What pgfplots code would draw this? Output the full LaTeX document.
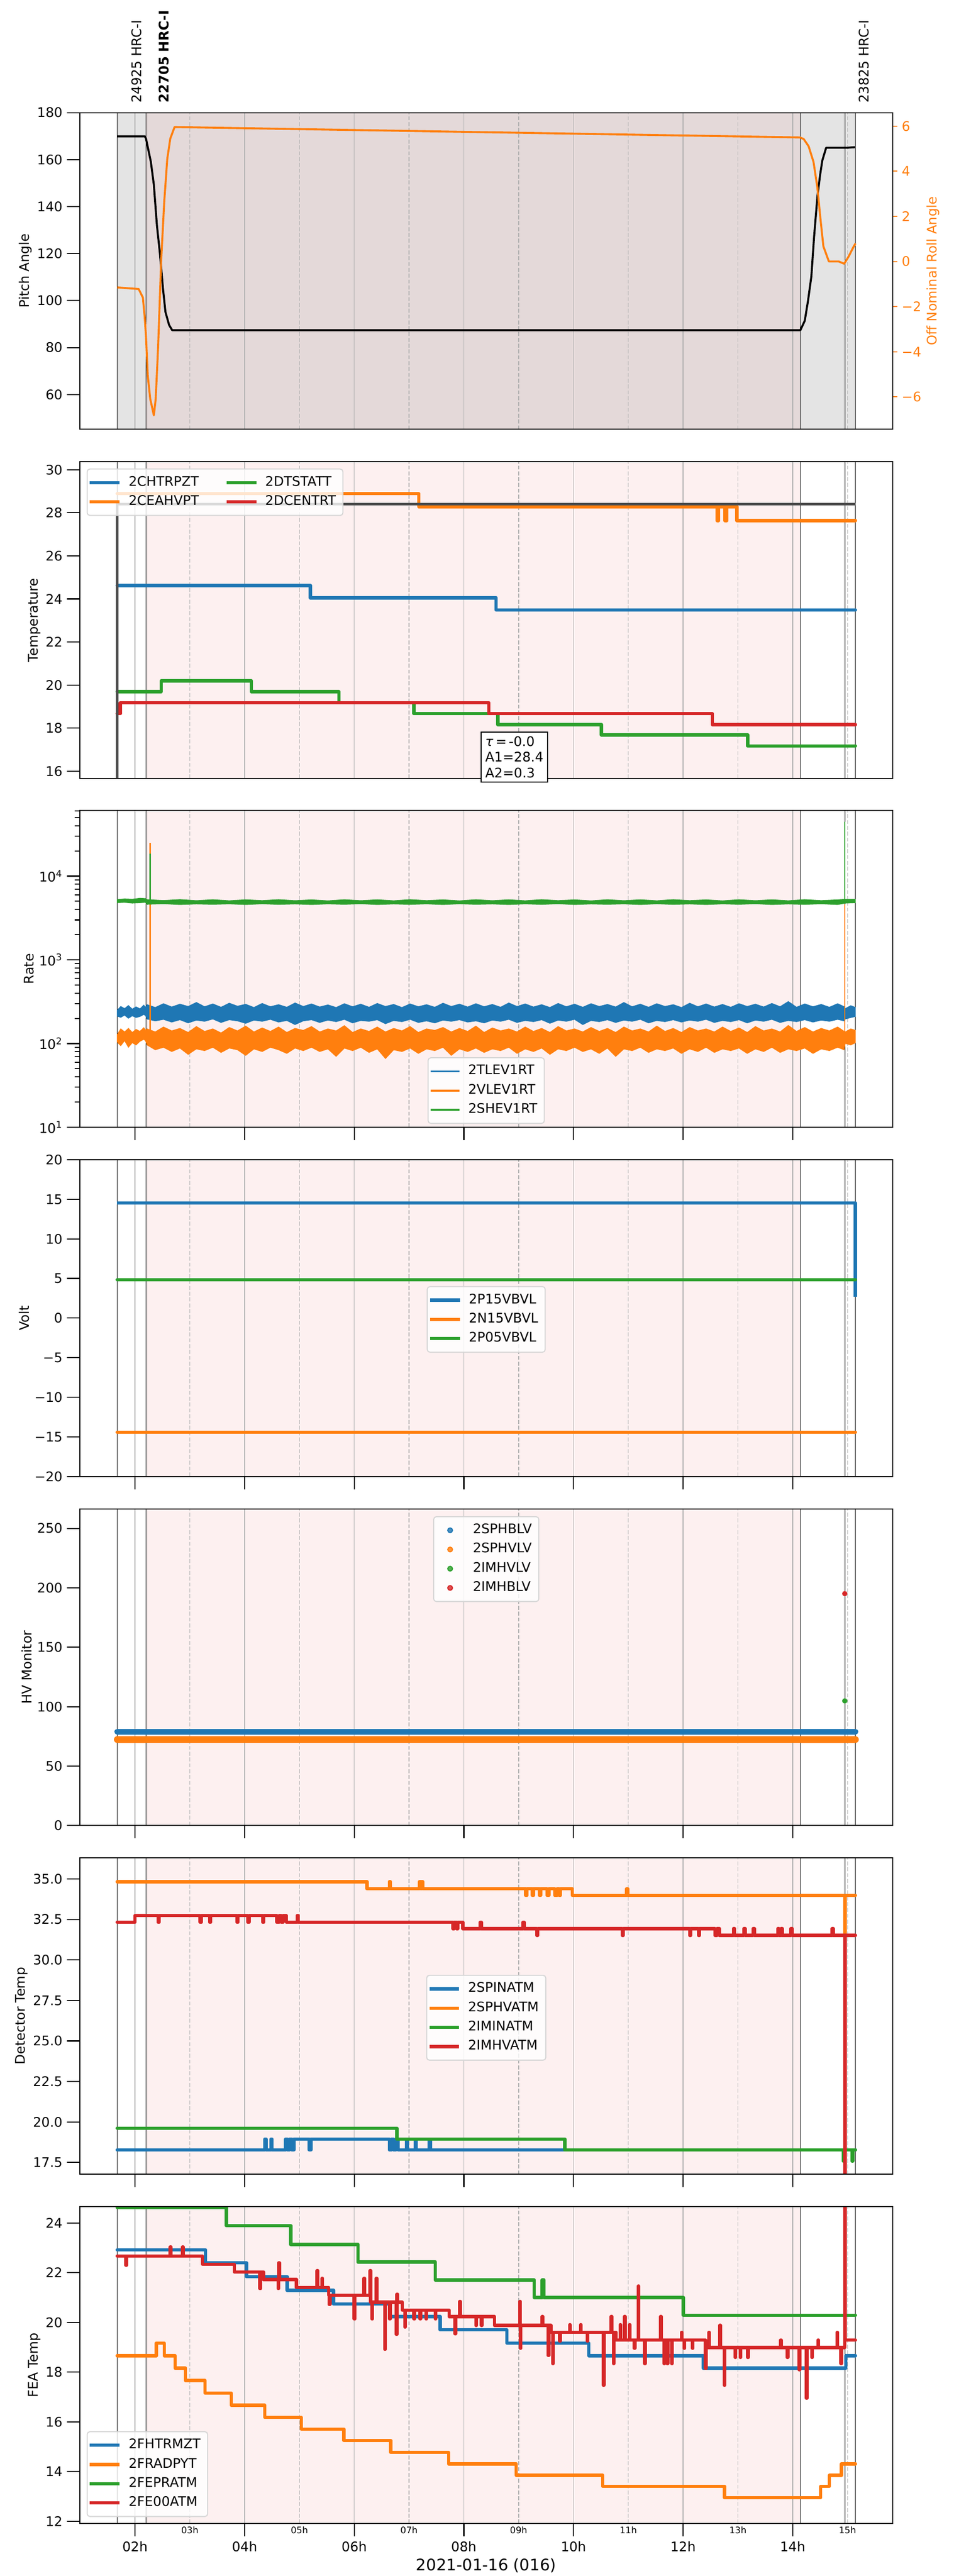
\documentclass[border=0pt]{standalone}
\usepackage{fontspec}
\setmainfont{DejaVu Sans}
\usepackage{pgfplots}
\usepackage{pgfplotstable}
\pgfplotsset{compat=1.18}

\definecolor{c0}{HTML}{1F77B4}
\definecolor{c1}{HTML}{FF7F0E}
\definecolor{c2}{HTML}{2CA02C}
\definecolor{c3}{HTML}{D62728}
\definecolor{gridc}{HTML}{B0B0B0}
\definecolor{pinkbg}{HTML}{FDF0F0}
\definecolor{greybg}{HTML}{E4E4E4}
\definecolor{rosebg}{HTML}{E4D9D9}
\definecolor{fitc}{HTML}{4D4D4D}
\definecolor{legc}{HTML}{D6D6D6}

\newcommand{\vl}[2]{\draw[#1] (axis cs:#2,\ylo) -- (axis cs:#2,\yhi);}
\newcommand{\gridlines}{%
  \vl{gridc,line width=0.5pt}{2}\vl{gridc,line width=0.5pt}{4}\vl{gridc,line width=0.5pt}{6}%
  \vl{gridc,line width=0.5pt}{8}\vl{gridc,line width=0.5pt}{10}\vl{gridc,line width=0.5pt}{12}%
  \vl{gridc,line width=0.5pt}{14}%
  \vl{gridc,line width=0.5pt,dash pattern=on 3pt off 1.4pt}{3}\vl{gridc,line width=0.5pt,dash pattern=on 3pt off 1.4pt}{5}%
  \vl{gridc,line width=0.5pt,dash pattern=on 3pt off 1.4pt}{7}\vl{gridc,line width=0.5pt,dash pattern=on 3pt off 1.4pt}{9}%
  \vl{gridc,line width=0.5pt,dash pattern=on 3pt off 1.4pt}{11}\vl{gridc,line width=0.5pt,dash pattern=on 3pt off 1.4pt}{13}%
  \vl{gridc,line width=0.5pt,dash pattern=on 3pt off 1.4pt}{15}%
  \vl{black,line width=0.4pt}{1.675}\vl{black,line width=0.4pt}{2.2}\vl{black,line width=0.4pt}{14.139}%
  \vl{black,line width=0.4pt}{14.951}\vl{black,line width=0.4pt}{15.145}%
}
\newcommand{\pinkfill}{\fill[pinkbg] (axis cs:2.2,\ylo) rectangle (axis cs:14.139,\yhi);}

\pgfplotsset{
  panel/.style={
    anchor=south west, at={(60.4pt,#1)},
    scale only axis, width=613.2pt, height=239pt,
    xmin=0.997, xmax=15.82,
    axis on top,
    axis line style={line width=0.8pt},
    tick style={line width=0.8pt, black},
    tick align=outside,
    major tick length=9.7pt,
    minor tick length=4pt,
    xtick pos=bottom, ytick pos=left,
    ylabel shift=-3pt,
    /pgf/number format/assume math mode=true,
    scaled y ticks=false,
    legend cell align=left,
    legend style={draw=legc, line width=0.8pt, rounded corners=2pt, fill=white,
      fill opacity=0.8, text opacity=1, font=\fontsize{10}{12}\selectfont,
      inner xsep=2pt, inner ysep=3pt, row sep=0pt,
      nodes={inner xsep=3.3pt, inner ysep=2.25pt, text height=7.5pt, text depth=2.5pt},
      /tikz/every odd column/.append style={column sep=3.5pt}},
    legend image code/.code={\draw[##1, line cap=rect] (0pt,0pt) -- (20pt,0pt);},
  },
  thk/.style={line width=2.5pt, line join=round, line cap=round},
}

% blue band: upper envelope left to right, then lower envelope right to left
\pgfplotstableread{
x y
1.675 250
1.74 278
1.81 262
1.88 285
1.95 258
2.02 275
2.09 260
2.16 288
2.19 272
2.22 292
2.37 270
2.52 300
2.67 274
2.82 296
2.97 278
3.12 310
3.27 276
3.42 298
3.57 272
3.72 304
3.87 280
4.02 295
4.17 270
4.32 302
4.47 276
4.62 292
4.77 272
4.92 306
5.07 278
5.22 298
5.37 274
5.52 290
5.67 270
5.82 300
5.97 276
6.12 296
6.27 272
6.42 302
6.57 278
6.72 294
6.87 270
7.02 298
7.17 276
7.32 292
7.47 272
7.62 304
7.77 278
7.92 296
8.07 274
8.22 300
8.37 276
8.52 294
8.67 272
8.82 306
8.97 278
9.12 298
9.27 274
9.42 292
9.57 270
9.72 302
9.87 276
10.02 296
10.17 272
10.32 300
10.47 278
10.62 294
10.77 274
10.92 310
11.07 276
11.22 296
11.37 272
11.52 300
11.67 278
11.82 292
11.97 270
12.12 304
12.27 276
12.42 298
12.57 274
12.72 294
12.87 272
13.02 300
13.17 278
13.32 296
13.47 274
13.62 302
13.77 276
13.92 318
14.07 272
14.22 298
14.37 276
14.52 294
14.67 272
14.82 300
14.94 276
14.96 262
15.06 284
15.145 270
15.145 210
15.06 204
14.96 196
14.94 186
14.82 194
14.67 184
14.52 190
14.37 180
14.22 192
14.07 182
13.92 188
13.77 178
13.62 194
13.47 184
13.32 190
13.17 176
13.02 192
12.87 182
12.72 188
12.57 178
12.42 194
12.27 184
12.12 190
11.97 180
11.82 192
11.67 182
11.52 188
11.37 176
11.22 194
11.07 184
10.92 190
10.77 178
10.62 192
10.47 182
10.32 188
10.17 168
10.02 194
9.87 184
9.72 190
9.57 174
9.42 192
9.27 182
9.12 188
8.97 178
8.82 194
8.67 184
8.52 190
8.37 176
8.22 186
8.07 180
7.92 192
7.77 184
7.62 190
7.47 176
7.32 186
7.17 178
7.02 194
6.87 182
6.72 188
6.57 172
6.42 192
6.27 184
6.12 188
5.97 176
5.82 194
5.67 182
5.52 190
5.37 178
5.22 192
5.07 186
4.92 168
4.77 188
4.62 180
4.47 194
4.32 184
4.17 190
4.02 174
3.87 186
3.72 192
3.57 178
3.42 196
3.27 184
3.12 190
2.97 176
2.82 192
2.67 180
2.52 194
2.37 186
2.22 196
2.19 216
2.16 222
2.09 210
2.02 204
1.95 214
1.88 200
1.81 218
1.74 205
1.675 212
}\bandB

\pgfplotstableread{
x y
1.675 128
1.74 150
1.81 138
1.88 152
1.95 136
2.02 148
2.09 140
2.16 155
2.19 146
2.22 150
2.37 138
2.52 158
2.67 142
2.82 152
2.97 136
3.12 160
3.27 140
3.42 150
3.57 134
3.72 156
3.87 142
4.02 162
4.17 138
4.32 154
4.47 140
4.62 158
4.77 136
4.92 152
5.07 144
5.22 160
5.37 138
5.52 150
5.67 142
5.82 164
5.97 136
6.12 150
6.27 140
6.42 158
6.57 138
6.72 152
6.87 142
7.02 160
7.17 136
7.32 150
7.47 144
7.62 156
7.77 138
7.92 152
8.07 140
8.22 162
8.37 136
8.52 154
8.67 142
8.82 150
8.97 138
9.12 158
9.27 140
9.42 152
9.57 136
9.72 160
9.87 142
10.02 150
10.17 138
10.32 156
10.47 140
10.62 152
10.77 136
10.92 158
11.07 142
11.22 150
11.37 138
11.52 162
11.67 140
11.82 152
11.97 136
12.12 156
12.27 142
12.42 150
12.57 138
12.72 158
12.87 140
13.02 154
13.17 136
13.32 160
13.47 142
13.62 150
13.77 138
13.92 165
14.07 140
14.22 156
14.37 138
14.52 152
14.67 142
14.82 158
14.94 140
14.96 138
15.06 150
15.145 144
15.145 102
15.06 96
14.96 100
14.94 84
14.82 90
14.67 82
14.52 86
14.37 76
14.22 88
14.07 82
13.92 86
13.77 78
13.62 90
13.47 80
13.32 86
13.17 76
13.02 88
12.87 82
12.72 86
12.57 78
12.42 90
12.27 80
12.12 86
11.97 76
11.82 88
11.67 82
11.52 86
11.37 78
11.22 90
11.07 82
10.92 86
10.77 70
10.62 88
10.47 76
10.32 86
10.17 80
10.02 90
9.87 82
9.72 86
9.57 74
9.42 88
9.27 80
9.12 86
8.97 76
8.82 90
8.67 82
8.52 86
8.37 78
8.22 88
8.07 80
7.92 86
7.77 72
7.62 90
7.47 82
7.32 86
7.17 76
7.02 88
6.87 80
6.72 84
6.57 66
6.42 86
6.27 78
6.12 90
5.97 82
5.82 88
5.67 70
5.52 86
5.37 80
5.22 90
5.07 82
4.92 88
4.77 76
4.62 84
4.47 90
4.32 80
4.17 86
4.02 72
3.87 84
3.72 88
3.57 78
3.42 90
3.27 82
3.12 86
2.97 74
2.82 88
2.67 80
2.52 90
2.37 84
2.22 96
2.19 108
2.16 112
2.09 106
2.02 96
1.95 102
1.88 90
1.81 108
1.74 94
1.675 104
}\bandO

\pgfplotstableread{
x y
1.675 5250
1.81 5350
1.95 5300
2.09 5450
2.19 5400
2.22 5250
2.52 5120
2.82 5260
3.12 5100
3.42 5240
3.72 5090
4.02 5230
4.32 5110
4.62 5250
4.92 5100
5.22 5220
5.52 5080
5.82 5240
6.12 5100
6.42 5230
6.72 5090
7.02 5250
7.32 5110
7.62 5220
7.92 5080
8.22 5240
8.52 5100
8.82 5230
9.12 5090
9.42 5250
9.72 5110
10.02 5220
10.32 5080
10.62 5240
10.92 5100
11.22 5230
11.52 5090
11.82 5250
12.12 5110
12.42 5220
12.72 5080
13.02 5240
13.32 5100
13.62 5230
13.92 5090
14.22 5250
14.52 5110
14.82 5220
14.96 5300
15.145 5300
15.145 4800
14.96 4750
14.82 4560
14.52 4660
14.22 4580
13.92 4640
13.62 4560
13.32 4670
13.02 4590
12.72 4650
12.42 4560
12.12 4640
11.82 4580
11.52 4660
11.22 4560
10.92 4650
10.62 4590
10.32 4640
10.02 4560
9.72 4670
9.42 4580
9.12 4650
8.82 4560
8.52 4640
8.22 4590
7.92 4660
7.62 4560
7.32 4650
7.02 4580
6.72 4640
6.42 4560
6.12 4670
5.82 4590
5.52 4650
5.22 4560
4.92 4640
4.62 4580
4.32 4660
4.02 4560
3.72 4650
3.42 4590
3.12 4640
2.82 4560
2.52 4670
2.22 4600
2.19 4850
2.09 4800
1.95 4750
1.81 4850
1.675 4800
}\bandG

\begin{document}
\begin{tikzpicture}
\useasboundingbox (0,0) rectangle (720pt,1944pt);

% ================= Panel 0: Pitch =================
\def\ylo{45.2}\def\yhi{180}
\begin{axis}[panel=1620pt, ymin=45.2, ymax=180, ytick={60,80,...,180}, xtick=\empty,
  ylabel={Pitch Angle}]
  \fill[greybg] (axis cs:1.675,\ylo) rectangle (axis cs:15.145,\yhi);
  \fill[rosebg] (axis cs:2.2,\ylo) rectangle (axis cs:14.139,\yhi);
  \gridlines
  \addplot[black, line width=1.5pt, line join=round] coordinates {
    (1.675,169.9) (2.18,169.9) (2.2,169.0) (2.289,159.1) (2.344,149.3) (2.4,132.0)
    (2.456,119.7) (2.511,105.0) (2.556,95.1) (2.622,89.6) (2.678,87.4) (14.14,87.4)
    (14.22,91.4) (14.28,100) (14.34,110.2) (14.39,127.1) (14.45,144.1) (14.50,153.5)
    (14.54,159.6) (14.61,165.05) (15.0,165.05) (15.145,165.3)};
\end{axis}
\begin{axis}[panel=1620pt, axis y line*=right, axis x line=none, axis line style={black},
  ymin=-7.44, ymax=6.60, ytick={-6,-4,...,6}, yticklabels={−6,−4,−2,0,2,4,6},
  ytick pos=right, major tick length=3.5pt,
  ytick style={c1, line width=0.8pt}, yticklabel style={c1},
  ylabel={Off Nominal Roll Angle}, ylabel style={c1}]
  \addplot[c1, line width=1.5pt, line join=round] coordinates {
    (1.675,-1.15) (2.067,-1.22) (2.144,-1.60) (2.178,-2.50) (2.2,-3.3) (2.233,-5.06)
    (2.278,-6.09) (2.344,-6.82) (2.378,-6.09) (2.422,-3.78) (2.478,0.07) (2.533,2.63)
    (2.589,4.55) (2.644,5.45) (2.722,5.96) (14.13,5.50) (14.20,5.43) (14.29,5.11)
    (14.38,4.41) (14.45,3.28) (14.51,1.80) (14.56,0.67) (14.66,0.0) (14.84,0.0)
    (14.94,-0.1) (15.02,0.22) (15.11,0.65) (15.145,0.80)};
\end{axis}

% ================= Panel 1: Temperature =================
\def\ylo{15.66}\def\yhi{30.37}
\begin{axis}[panel=1356.5pt, ymin=15.66, ymax=30.37, ytick={16,18,...,30}, xtick=\empty,
  ylabel={Temperature},
  legend columns=2, transpose legend,
  legend style={at={(0.0082,0.9787)}, anchor=north west,
    /tikz/every even column/.append style={column sep=17.5pt}}]
  \pinkfill
  \gridlines
  \addplot[c0, thk] coordinates {(1.675,24.62) (5.2,24.62) (5.2,24.05) (8.589,24.05) (8.589,23.49) (15.145,23.49)};
  \addlegendentry{2CHTRPZT}
  \addplot[c1, thk] coordinates {(1.675,28.89) (7.178,28.89) (7.178,28.28) (12.62,28.28) (12.62,27.64)
    (12.65,27.64) (12.65,28.28) (12.76,28.28) (12.76,27.64) (12.80,27.64) (12.80,28.28)
    (12.98,28.28) (12.98,27.64) (15.145,27.64)};
  \addlegendentry{2CEAHVPT}
  \addplot[c2, thk] coordinates {(1.675,19.69) (2.478,19.69) (2.478,20.19) (4.122,20.19) (4.122,19.69)
    (5.722,19.69) (5.722,19.18) (7.089,19.18) (7.089,18.67) (8.622,18.67) (8.622,18.16)
    (10.511,18.16) (10.511,17.68) (13.178,17.68) (13.178,17.17) (15.145,17.17)};
  \addlegendentry{2DTSTATT}
  \addplot[c3, thk] coordinates {(1.675,18.67) (1.733,18.67) (1.733,19.18) (8.456,19.18) (8.456,18.67)
    (12.533,18.67) (12.533,18.16) (15.145,18.16)};
  \addlegendentry{2DCENTRT}
  \addplot[fitc, line width=1.8pt, forget plot] coordinates {(1.675,15.66) (1.675,28.40) (15.145,28.40)};
\end{axis}

% ================= Panel 2: Rate =================
\def\ylo{10}\def\yhi{60700}
\begin{axis}[panel=1093.3pt, ymode=log, ymin=10, ymax=60700,
  ytick={10,100,1000,10000},
  yticklabels={10\textsuperscript{1},10\textsuperscript{2},10\textsuperscript{3},10\textsuperscript{4}},
  minor ytick={20,30,40,50,60,70,80,90,200,300,400,500,600,700,800,900,2000,3000,4000,5000,6000,7000,8000,9000,20000,30000,40000,50000,60000},
  xtick={2,4,...,14}, xticklabels={,,,,,,},
  ylabel={Rate},
  legend style={at={(0.5,0.221)}, anchor=north}]
  \pinkfill
  \gridlines
  \addplot[c0, fill=c0, line width=0.4pt, forget plot] table {\bandB} -- cycle;
  \addplot[c1, fill=c1, line width=0.4pt, forget plot] table {\bandO} -- cycle;
  \addplot[c1, line width=1pt, forget plot] coordinates {(2.274,120) (2.274,25000)};
  \addplot[c1, line width=1pt, forget plot] coordinates {(14.951,110) (14.951,4600)};
  \addplot[c2, fill=c2, line width=0.4pt, forget plot] table {\bandG} -- cycle;
  \addplot[c2, line width=1pt, forget plot] coordinates {(2.274,4900) (2.274,18600)};
  \addplot[c2, line width=1pt, forget plot] coordinates {(14.951,4900) (14.951,44900)};
  \addlegendimage{c0, line width=1.5pt}\addlegendentry{2TLEV1RT}
  \addlegendimage{c1, line width=1.5pt}\addlegendentry{2VLEV1RT}
  \addlegendimage{c2, line width=1.5pt}\addlegendentry{2SHEV1RT}
\end{axis}

% ================= Panel 3: Volt =================
\def\ylo{-20}\def\yhi{20}
\begin{axis}[panel=829.8pt, ymin=-20, ymax=20, ytick={-20,-15,...,20},
  yticklabels={−20,−15,−10,−5,0,5,10,15,20},
  xtick={2,4,...,14}, xticklabels={,,,,,,},
  ylabel={Volt},
  legend style={at={(0.5,0.601)}, anchor=north}]
  \pinkfill
  \gridlines
  \addplot[c0, thk, line cap=butt] coordinates {(1.675,14.55) (15.145,14.55) (15.145,2.66)};
  \addlegendentry{2P15VBVL}
  \addplot[c1, thk] coordinates {(1.675,-14.43) (15.145,-14.43)};
  \addlegendentry{2N15VBVL}
  \addplot[c2, thk] coordinates {(1.675,4.85) (15.145,4.85)};
  \addlegendentry{2P05VBVL}
\end{axis}

% ================= Panel 4: HV Monitor =================
\def\ylo{0}\def\yhi{266.4}
\begin{axis}[panel=566.3pt, ymin=0, ymax=266.4, ytick={0,50,...,250},
  xtick={2,4,...,14}, xticklabels={,,,,,,},
  ylabel={HV Monitor},
  legend image code/.code={\fill[#1] (10pt,0pt) circle (1.8pt); \path (0pt,0pt) (20pt,0pt);},
  legend style={at={(0.5,0.977)}, anchor=north}]
  \pinkfill
  \gridlines
  \addplot[c0, line width=4.2pt, line cap=round, forget plot] coordinates {(1.675,79.0) (15.145,79.0)};
  \addplot[c1, line width=5pt, line cap=round, forget plot] coordinates {(1.675,72.4) (15.145,72.4)};
  \addplot[c2, only marks, mark=*, mark size=1.8pt, forget plot] coordinates {(14.95,104.9)};
  \addplot[c3, only marks, mark=*, mark size=1.8pt, forget plot] coordinates {(14.95,195.1)};
  \addlegendimage{c0}\addlegendentry{2SPHBLV}
  \addlegendimage{c1}\addlegendentry{2SPHVLV}
  \addlegendimage{c2}\addlegendentry{2IMHVLV}
  \addlegendimage{c3}\addlegendentry{2IMHBLV}
\end{axis}

% ================= Panel 5: Detector Temp =================
\def\ylo{16.77}\def\yhi{36.31}
\begin{axis}[panel=303.1pt, ymin=16.77, ymax=36.31,
  ytick={17.5,20,22.5,25,27.5,30,32.5,35},
  yticklabels={17.5,20.0,22.5,25.0,27.5,30.0,32.5,35.0},
  xtick={2,4,...,14}, xticklabels={,,,,,,},
  ylabel={Detector Temp},
  legend style={at={(0.5,0.630)}, anchor=north}]
  \pinkfill
  \gridlines
  \addplot[c0, thk] coordinates {(1.675,18.28) (4.37,18.28) (4.37,18.95) (4.39,18.95) (4.39,18.28)
    (4.48,18.28) (4.48,18.95) (4.50,18.95) (4.50,18.28) (4.75,18.28) (4.75,18.95) (4.78,18.95)
    (4.78,18.28) (4.82,18.28) (4.82,18.95) (4.86,18.95) (4.86,18.28) (4.90,18.28) (4.90,18.95)
    (5.18,18.95) (5.18,18.28) (5.21,18.28) (5.21,18.95) (6.64,18.95) (6.64,18.28) (6.68,18.28)
    (6.68,18.95) (6.72,18.95) (6.72,18.28) (6.76,18.28) (6.76,18.95) (6.80,18.95) (6.80,18.28)
    (6.95,18.28) (6.95,18.95) (6.97,18.95) (6.97,18.28) (7.11,18.28) (7.11,18.95) (7.13,18.95)
    (7.13,18.28) (7.37,18.28) (7.37,18.95) (7.39,18.95) (7.39,18.28) (15.145,18.28)};
  \addlegendentry{2SPINATM}
  \addplot[c1, thk] coordinates {(1.675,34.82) (6.233,34.82) (6.233,34.39) (6.64,34.39) (6.64,34.82)
    (6.66,34.82) (6.66,34.39) (7.19,34.39) (7.19,34.82) (7.21,34.82) (7.21,34.39) (7.23,34.39)
    (7.23,34.82) (7.25,34.82) (7.25,34.39) (9.13,34.39) (9.13,33.98) (9.15,33.98) (9.15,34.39)
    (9.25,34.39) (9.25,33.98) (9.27,33.98) (9.27,34.39) (9.38,34.39) (9.38,33.98) (9.40,33.98)
    (9.40,34.39) (9.52,34.39) (9.52,33.98) (9.55,33.98) (9.55,34.39) (9.66,34.39) (9.66,33.98)
    (9.70,33.98) (9.70,34.39) (9.74,34.39) (9.74,33.98) (9.76,33.98) (9.76,34.39) (9.978,34.39)
    (9.978,33.98) (10.97,33.98) (10.97,34.39) (10.99,34.39) (10.99,33.98) (14.95,33.98)
    (14.95,31.54) (14.96,31.54) (14.96,33.98) (15.145,33.98)};
  \addlegendentry{2SPHVATM}
  \addplot[c2, thk] coordinates {(1.675,19.62) (6.778,19.62) (6.778,18.95) (9.844,18.95) (9.844,18.28)
    (14.92,18.28) (14.92,17.6) (14.935,17.6) (14.935,18.28) (15.08,18.28) (15.08,17.6)
    (15.095,17.6) (15.095,18.28) (15.145,18.28)};
  \addlegendentry{2IMINATM}
  \addplot[c3, thk] coordinates {(1.675,32.32) (2.0,32.32) (2.0,32.74) (2.42,32.74) (2.42,32.32)
    (2.44,32.32) (2.44,32.74) (3.19,32.74) (3.19,32.32) (3.21,32.32) (3.21,32.74) (3.36,32.74)
    (3.36,32.32) (3.38,32.32) (3.38,32.74) (3.86,32.74) (3.86,32.32) (3.88,32.32) (3.88,32.74)
    (4.06,32.74) (4.06,32.32) (4.08,32.32) (4.08,32.74) (4.33,32.74) (4.33,32.32) (4.35,32.32)
    (4.35,32.74) (4.59,32.74) (4.59,32.32) (4.63,32.32) (4.63,32.74) (4.67,32.74) (4.67,32.32)
    (4.70,32.32) (4.70,32.74) (4.76,32.74) (4.76,32.32) (4.96,32.32) (4.96,32.74) (4.98,32.74)
    (4.98,32.32) (7.80,32.32) (7.80,31.93) (7.82,31.93) (7.82,32.32) (7.87,32.32) (7.87,31.93)
    (7.89,31.93) (7.89,32.32) (7.98,32.32) (7.98,31.93) (8.30,31.93) (8.30,32.32) (8.32,32.32)
    (8.32,31.93) (9.08,31.93) (9.08,32.32) (9.10,32.32) (9.10,31.93) (9.33,31.93) (9.33,31.52)
    (9.35,31.52) (9.35,31.93) (10.89,31.93) (10.89,31.52) (10.91,31.52) (10.91,31.93)
    (12.12,31.93) (12.12,31.52) (12.14,31.52) (12.14,31.93) (12.28,31.93) (12.28,31.52)
    (12.30,31.52) (12.30,31.93) (12.58,31.93) (12.58,31.52) (12.62,31.52) (12.62,31.93)
    (12.66,31.93) (12.66,31.52) (12.92,31.52) (12.92,31.93) (12.94,31.93) (12.94,31.52)
    (13.11,31.52) (13.11,31.93) (13.13,31.93) (13.13,31.52) (13.28,31.52) (13.28,31.93)
    (13.30,31.93) (13.30,31.52) (13.73,31.52) (13.73,31.93) (13.75,31.93) (13.75,31.52)
    (13.79,31.52) (13.79,31.93) (13.81,31.93) (13.81,31.52) (13.97,31.52) (13.97,31.93)
    (13.99,31.93) (13.99,31.52) (14.72,31.52) (14.72,31.93) (14.74,31.93) (14.74,31.52)
    (14.95,31.52) (14.95,10) (14.96,10) (14.96,31.52) (15.145,31.52)};
  \addlegendentry{2IMHVATM}
\end{axis}

% ================= Panel 6: FEA Temp =================
\def\ylo{11.91}\def\yhi{24.65}
\begin{axis}[panel=39.6pt, ymin=11.91, ymax=24.65, ytick={12,14,...,24},
  xtick={2,4,...,14}, xticklabels={,,,,,,},
  xlabel={2021-01-16 (016)},
  xlabel style={font=\fontsize{12}{14}\selectfont, at={(axis description cs:0.5,0)}, anchor=base, yshift=-35.7pt},
  ylabel={FEA Temp},
  legend style={at={(0.0082,0.0205)}, anchor=south west}]
  \pinkfill
  \gridlines
  \addplot[c0, thk] coordinates {(1.675,22.92) (3.289,22.92) (3.289,22.40) (4.033,22.40) (4.033,21.84)
    (4.778,21.84) (4.778,21.29) (5.622,21.29) (5.622,20.74) (6.644,20.74) (6.644,20.23)
    (7.567,20.23) (7.567,19.70) (8.785,19.70) (8.785,19.17) (10.28,19.17) (10.28,18.66)
    (12.366,18.66) (12.366,18.16) (14.97,18.16) (14.97,18.66) (15.145,18.66)};
  \addlegendentry{2FHTRMZT}
  \addplot[c1, thk] coordinates {(1.675,18.66) (2.389,18.66) (2.389,19.17) (2.533,19.17) (2.533,18.66)
    (2.733,18.66) (2.733,18.16) (2.922,18.16) (2.922,17.66) (3.278,17.66) (3.278,17.16)
    (3.756,17.16) (3.756,16.67) (4.367,16.67) (4.367,16.18) (5.033,16.18) (5.033,15.71)
    (5.811,15.71) (5.811,15.25) (6.667,15.25) (6.667,14.77) (7.722,14.77) (7.722,14.31)
    (8.956,14.31) (8.956,13.85) (10.533,13.85) (10.533,13.41) (12.756,13.41) (12.756,12.95)
    (14.511,12.95) (14.511,13.41) (14.67,13.41) (14.67,13.85) (14.89,13.85) (14.89,14.31)
    (15.145,14.31)};
  \addlegendentry{2FRADPYT}
  \addplot[c2, thk] coordinates {(1.675,24.62) (3.667,24.62) (3.667,23.89) (4.844,23.89) (4.844,23.14)
    (6.067,23.14) (6.067,22.43) (7.48,22.43) (7.48,21.71) (9.285,21.71) (9.285,21.0) (9.43,21.0)
    (9.43,21.71) (9.46,21.71) (9.46,21.0) (12.005,21.0) (12.005,20.29) (15.145,20.29)};
  \addlegendentry{2FEPRATM}
  \addplot[c3, thk] coordinates {(1.675,22.67) (1.833,22.67) (1.833,22.30) (1.845,22.30) (1.845,22.67)
    (2.644,22.67) (2.644,23.03) (2.656,23.03) (2.656,22.67) (2.867,22.67) (2.867,23.03)
    (2.879,23.03) (2.879,22.67) (3.233,22.67) (3.233,22.34) (3.811,22.34) (3.811,22.03)
    (4.278,22.03) (4.278,21.36) (4.29,21.36) (4.29,22.03) (4.344,22.03) (4.344,21.73)
    (4.611,21.73) (4.611,21.36) (4.622,21.36) (4.622,22.40) (4.634,22.40) (4.634,21.73)
    (4.944,21.73) (4.944,21.41) (5.322,21.41) (5.322,22.08) (5.334,22.08) (5.334,21.41)
    (5.411,21.41) (5.411,21.77) (5.423,21.77) (5.423,21.41) (5.533,21.41) (5.533,21.10)
    (5.544,21.10) (5.544,20.72) (5.556,20.72) (5.556,21.10) (6.0,21.10) (6.0,20.14)
    (6.012,20.14) (6.012,21.10) (6.178,21.10) (6.178,21.77) (6.19,21.77) (6.19,21.10)
    (6.289,21.10) (6.289,22.08) (6.30,22.08) (6.30,20.81) (6.322,20.81) (6.322,20.14)
    (6.334,20.14) (6.334,20.81) (6.40,20.81) (6.40,21.77) (6.412,21.77) (6.412,20.81)
    (6.556,20.81) (6.556,18.92) (6.568,18.92) (6.568,20.81) (6.644,20.81) (6.644,20.14)
    (6.656,20.14) (6.656,20.81) (6.767,20.81) (6.767,19.52) (6.779,19.52) (6.779,21.13)
    (6.791,21.13) (6.791,20.81) (6.878,20.81) (6.878,20.49) (6.922,20.49) (6.922,19.82)
    (6.934,19.82) (6.934,20.49) (7.09,20.49) (7.09,20.14) (7.10,20.14) (7.10,20.49)
    (7.20,20.49) (7.20,20.14) (7.21,20.14) (7.21,20.49) (7.31,20.49) (7.31,20.14)
    (7.32,20.14) (7.32,20.49) (7.48,20.49) (7.48,20.14) (7.49,20.14) (7.49,20.49)
    (7.733,20.49) (7.733,20.23) (7.84,20.23) (7.84,19.54) (7.85,19.54) (7.85,20.23)
    (7.925,20.23) (7.925,20.84) (7.935,20.84) (7.935,20.23) (8.22,20.23) (8.22,19.88)
    (8.23,19.88) (8.23,20.23) (8.32,20.23) (8.32,19.88) (8.33,19.88) (8.33,20.23)
    (8.56,20.23) (8.56,19.88) (9.02,19.88) (9.02,20.84) (9.03,20.84) (9.03,18.96)
    (9.04,18.96) (9.04,19.88) (9.43,19.88) (9.43,20.23) (9.44,20.23) (9.44,19.88)
    (9.54,19.88) (9.54,18.67) (9.55,18.67) (9.55,19.88) (9.59,19.88) (9.59,19.60)
    (9.62,19.60) (9.62,18.35) (9.63,18.35) (9.63,19.60) (9.75,19.60) (9.75,19.25)
    (9.76,19.25) (9.76,19.60) (9.93,19.60) (9.93,19.90) (9.94,19.90) (9.94,19.60)
    (10.13,19.60) (10.13,19.90) (10.14,19.90) (10.14,19.60) (10.25,19.60) (10.25,19.25)
    (10.26,19.25) (10.26,19.60) (10.545,19.60) (10.545,17.48) (10.555,17.48) (10.555,19.60)
    (10.69,19.60) (10.69,20.23) (10.70,20.23) (10.70,19.60) (10.73,19.60) (10.73,18.35)
    (10.74,18.35) (10.74,19.60) (10.78,19.60) (10.78,19.29) (10.85,19.29) (10.85,19.90)
    (10.86,19.90) (10.86,19.29) (10.93,19.29) (10.93,20.23) (10.94,20.23) (10.94,19.29)
    (11.02,19.29) (11.02,19.90) (11.03,19.90) (11.03,19.29) (11.11,19.29) (11.11,18.96)
    (11.12,18.96) (11.12,19.29) (11.18,19.29) (11.18,21.46) (11.19,21.46) (11.19,19.29)
    (11.30,19.29) (11.30,18.35) (11.31,18.35) (11.31,19.29) (11.59,19.29) (11.59,20.23)
    (11.60,20.23) (11.60,19.29) (11.65,19.29) (11.65,18.35) (11.66,18.35) (11.66,19.29)
    (11.71,19.29) (11.71,18.35) (11.72,18.35) (11.72,19.29) (11.79,19.29) (11.79,18.35)
    (11.80,18.35) (11.80,19.29) (11.97,19.29) (11.97,19.60) (11.98,19.60) (11.98,19.29)
    (12.02,19.29) (12.02,18.96) (12.03,18.96) (12.03,19.29) (12.17,19.29) (12.17,18.96)
    (12.18,18.96) (12.18,19.29) (12.41,19.29) (12.41,18.15) (12.42,18.15) (12.42,18.99)
    (12.47,18.99) (12.47,19.60) (12.48,19.60) (12.48,18.99) (12.67,18.99) (12.67,19.88)
    (12.68,19.88) (12.68,18.99) (12.75,18.99) (12.75,17.48) (12.76,17.48) (12.76,18.99)
    (12.95,18.99) (12.95,18.60) (12.96,18.60) (12.96,18.99) (13.04,18.99) (13.04,18.60)
    (13.05,18.60) (13.05,18.99) (13.18,18.99) (13.18,18.60) (13.19,18.60) (13.19,18.99)
    (13.78,18.99) (13.78,19.29) (13.79,19.29) (13.79,18.99) (13.90,18.99) (13.90,18.60)
    (13.91,18.60) (13.91,18.99) (14.12,18.99) (14.12,18.10) (14.13,18.10) (14.13,18.99)
    (14.25,18.99) (14.25,16.95) (14.26,16.95) (14.26,18.99) (14.35,18.99) (14.35,18.60)
    (14.36,18.60) (14.36,18.99) (14.46,18.99) (14.46,19.29) (14.47,19.29) (14.47,18.99)
    (14.81,18.99) (14.81,19.60) (14.82,19.60) (14.82,18.99) (14.88,18.99) (14.88,18.35)
    (14.89,18.35) (14.89,18.99) (14.95,18.99) (14.95,30) (14.96,30) (14.96,19.29) (15.145,19.29)};
  \addlegendentry{2FE00ATM}
\end{axis}

% bottom tick labels (major even hours, small odd hours)
\foreach \xx/\tt in {101.89/02h,184.63/04h,267.36/06h,350.10/08h,432.84/10h,515.57/12h,598.31/14h}
  {\node[anchor=base, inner sep=0pt, font=\fontsize{10}{12}\selectfont] at (\xx pt,18.35pt) {\tt};}
\foreach \xx/\tt in {143.26/03h,226.00/05h,308.73/07h,391.47/09h,474.21/11h,556.94/13h,639.68/15h}
  {\node[anchor=base, inner sep=0pt, font=\fontsize{6.8}{8}\selectfont] at (\xx pt,31.9pt) {\tt};}

% annotation box
\node[draw=black, line width=0.8pt, fill=white, anchor=north west, align=left, inner sep=3pt,
  font=\fontsize{10}{12}\selectfont] at (362.9pt,1391.8pt) {\textit{τ}\,=\,-0.0\\A1=28.4\\A2=0.3};

% observation labels
\node[rotate=90, anchor=west, inner sep=0pt, font=\fontsize{10}{12}\selectfont] at (103.1pt,1866.2pt) {24925 HRC-I};
\node[rotate=90, anchor=west, inner sep=0pt, font=\fontsize{10}{12}\selectfont\bfseries] at (123.8pt,1866.2pt) {22705 HRC-I};
\node[rotate=90, anchor=west, inner sep=0pt, font=\fontsize{10}{12}\selectfont] at (652.1pt,1866.2pt) {23825 HRC-I};
\end{tikzpicture}
\end{document}
